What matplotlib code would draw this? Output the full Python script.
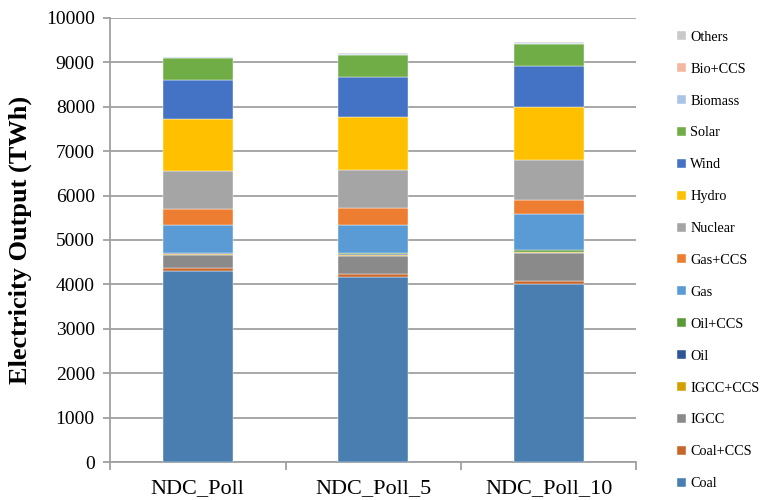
import matplotlib
matplotlib.use("Agg")
import matplotlib.pyplot as plt
import numpy as np

plt.rcParams['font.family'] = ['Liberation Serif', 'DejaVu Serif']

scenarios = ["NDC_Poll", "NDC_Poll_5", "NDC_Poll_10"]

# electricity output by technology (TWh), bottom of the stack first
techs = ["Coal", "Coal+CCS", "IGCC", "IGCC+CCS", "Oil", "Oil+CCS", "Gas",
         "Gas+CCS", "Nuclear", "Hydro", "Wind", "Solar", "Biomass",
         "Bio+CCS", "Others"]
coal = [4310, 4160, 4020]
coal_ccs = [70, 85, 55]
igcc = [285, 400, 640]
igcc_ccs = [30, 25, 20]
oil = [5, 5, 5]
oil_ccs = [15, 40, 35]
gas = [620, 615, 800]
gas_ccs = [370, 385, 325]
nuclear = [840, 870, 905]
hydro = [1175, 1185, 1185]
wind = [870, 895, 930]
solar = [510, 505, 495]
biomass = [5, 10, 10]
bio_ccs = [0, 0, 0]
others = [20, 30, 27]

series = [coal, coal_ccs, igcc, igcc_ccs, oil, oil_ccs, gas, gas_ccs,
          nuclear, hydro, wind, solar, biomass, bio_ccs, others]

colors = ["#4a7eb0", "#c8662a", "#8a8a8a", "#d4a000", "#2f5597", "#5b9a3a",
          "#5b9bd5", "#ed7d31", "#a5a5a5", "#ffc000", "#4472c4", "#70ad47",
          "#a9c4e6", "#f4b8a0", "#c9c9c9"]

fig = plt.figure(figsize=(7.62, 5.0), dpi=100)
ax = fig.add_axes([0.1444, 0.0754, 0.6909, 0.8892])

x = np.arange(len(scenarios))
bottom = np.zeros(len(scenarios))
handles = []
for name, vals, col in zip(techs, series, colors):
    b = ax.bar(x, vals, width=0.4, bottom=bottom, color=col, label=name,
               edgecolor="#ffffff", linewidth=0.3, zorder=3)
    handles.append(b)
    bottom += np.array(vals)

ax.set_xlim(-0.5, 2.5)
ax.set_ylim(0, 10000)
ax.set_yticks(np.arange(0, 10001, 1000))
ax.yaxis.grid(True, color="#a0a0a0", linewidth=1.3, zorder=0)
ax.set_axisbelow(True)

for side in ["top", "right"]:
    ax.spines[side].set_visible(False)
for side in ["left", "bottom"]:
    ax.spines[side].set_color("#a0a0a0")
    ax.spines[side].set_linewidth(1.3)

ax.set_xticks(x)
ax.set_xticklabels(scenarios, fontsize=16)
ax.set_xticks([-0.5, 0.5, 1.5, 2.5], minor=True)
ax.tick_params(axis="x", which="major", length=0, pad=12)
ax.tick_params(axis="x", which="minor", length=6, width=1.3, color="#a0a0a0")
ax.tick_params(axis="y", length=5, width=1.3, color="#a0a0a0", labelsize=14, pad=6)

ax.set_ylabel("Electricity Output (TWh)", fontsize=19, fontweight="bold", labelpad=10)

fig.legend(handles[::-1], techs[::-1], loc="center left",
           bbox_to_anchor=(0.872, 0.479), frameon=False, fontsize=10.3,
           handlelength=0.6, handleheight=0.6, handletextpad=0.3,
           labelspacing=1.32)

fig.savefig("out.png", dpi=100)
